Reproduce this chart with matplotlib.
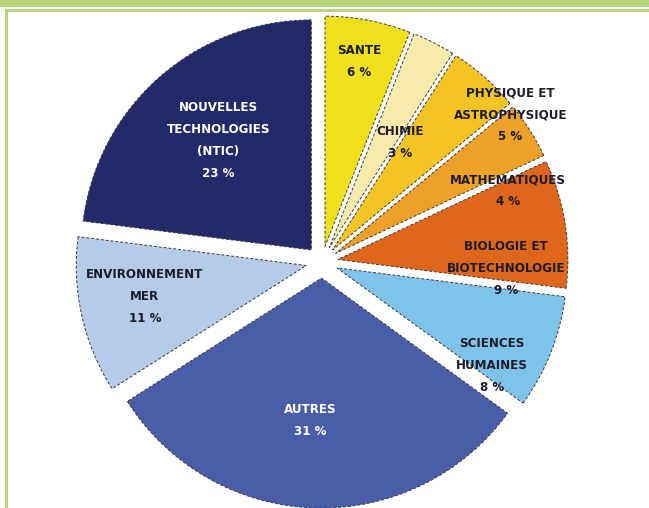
import matplotlib
matplotlib.use('Agg')
import matplotlib.pyplot as plt
from matplotlib.patches import Rectangle

# parts of the pie, clockwise from 12 o'clock
labels = ['SANTE', 'CHIMIE', 'PHYSIQUE ET\nASTROPHYSIQUE', 'MATHEMATIQUES',
          'BIOLOGIE ET\nBIOTECHNOLOGIE', 'SCIENCES\nHUMAINES', 'AUTRES',
          'ENVIRONNEMENT\nMER', 'NOUVELLES\nTECHNOLOGIES\n(NTIC)']
valeurs = [6, 3, 5, 4, 9, 8, 31, 11, 23]

cores = ['#F0DF1C', '#F6EBAA', '#F3C424', '#EEA128', '#DE671C',
         '#7FC2EA', '#4A5DA8', '#B5CCE8', '#232A6A']
cor_texto = ['#1c1c2c'] * 6 + ['white', '#1c1c2c', 'white']

# label anchors, in pie-radius units
pos_texto = [(0.16, 0.87), (0.34, 0.52), (0.82, 0.64), (0.81, 0.31),
             (0.80, -0.03), (0.74, -0.45), (-0.05, -0.69), (-0.77, -0.15),
             (-0.45, 0.53)]

W, H = 649, 508
cx, cy, R = 322, 262, 230   # centre and radius in pixels

fig = plt.figure(figsize=(W / 100, H / 100), dpi=100)
fig.patch.set_facecolor('white')
ax = fig.add_axes([0, 0, 1, 1])

ax.pie(valeurs, colors=cores, startangle=90, counterclock=False,
       explode=[0.07] * len(valeurs),
       wedgeprops=dict(edgecolor='#3a3a3a', linewidth=0.7,
                       linestyle=(0, (3, 2))))

for lab, v, (x, y), c in zip(labels, valeurs, pos_texto, cor_texto):
    ax.text(x, y, lab + '\n' + str(v) + ' %', ha='center', va='center',
            color=c, fontsize=8.6, fontweight='heavy', family='DejaVu Sans',
            linespacing=1.9)

ax.set_xlim(-cx / R, (W - cx) / R)
ax.set_ylim(-(H - cy) / R, cy / R)
ax.set_aspect('equal')
ax.axis('off')

# green page frame
verde = '#B9D67A'
fig.patches.append(Rectangle((0, 1 - 7 / H), 1, 7 / H, transform=fig.transFigure,
                             facecolor=verde, edgecolor='none'))
fig.patches.append(Rectangle((5 / W, 1 - 12 / H), 1, 3 / H, transform=fig.transFigure,
                             facecolor=verde, edgecolor='none'))
fig.patches.append(Rectangle((5 / W, 0), 3 / W, 1 - 9 / H, transform=fig.transFigure,
                             facecolor=verde, edgecolor='none'))

plt.savefig('out.png', dpi=100)
